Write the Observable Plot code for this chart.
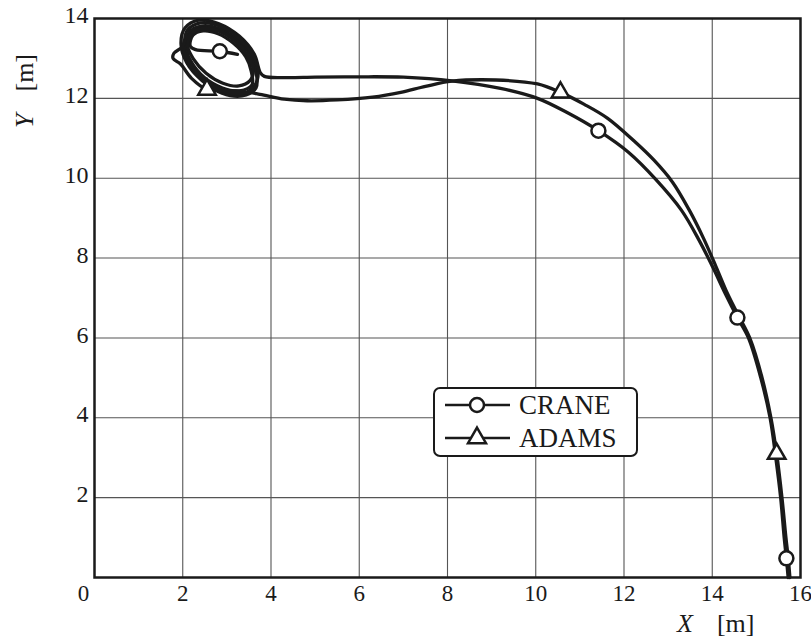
<!DOCTYPE html>
<html>
<head>
<meta charset="utf-8">
<script src="https://cdn.jsdelivr.net/npm/d3@7"></script>
<script src="https://cdn.jsdelivr.net/npm/@observablehq/plot@0.6"></script>
<style>
  html, body { margin: 0; padding: 0; background: #fff; }
  #chart { width: 811px; height: 639px; }
</style>
</head>
<body>
<div id="chart"></div>
<script>
// Trajectories in the X–Y plane [m]
const crane = [
  [15.72, 0], [15.68, 0.48], [15.63, 1.0], [15.55, 2.0], [15.44, 3.0], [15.31, 4.0],
  [15.1, 5.0], [14.82, 6.0], [14.57, 6.51], [14.3, 7.1], [14.0, 7.8], [13.7, 8.45],
  [13.3, 9.2], [12.72, 9.97], [12.1, 10.65], [11.42, 11.19], [10.7, 11.65], [10.04, 12.0],
  [9.2, 12.25], [8.1, 12.44], [7.0, 12.53], [6.0, 12.54], [5.0, 12.53], [4.3, 12.52],
  [3.85, 12.55],
  [3.76, 12.64], [3.62, 13.11], [3.28, 13.56], [2.82, 13.87], [2.36, 13.96], [2.05, 13.76],
  [1.96, 13.36], [2.09, 12.89], [2.44, 12.44], [2.89, 12.13], [3.34, 12.06], [3.66, 12.26],
  [3.66, 12.67], [3.53, 13.09], [3.22, 13.48], [2.82, 13.75], [2.42, 13.81], [2.15, 13.66],
  [2.06, 13.33], [2.19, 12.92], [2.49, 12.52], [2.9, 12.26], [3.29, 12.19], [3.57, 12.34],
  [3.55, 12.69], [3.43, 13.04], [3.15, 13.38], [2.8, 13.62], [2.46, 13.69], [2.23, 13.58],
  [2.17, 13.31], [2.29, 13.22], [2.84, 13.18], [3.24, 13.1]
];

const adams = [
  [15.76, 0], [15.72, 0.5], [15.67, 1.0], [15.58, 2.0], [15.46, 3.1], [15.33, 4.0],
  [15.13, 5.0], [14.85, 6.0], [14.6, 6.55], [14.35, 7.1], [14.08, 7.8], [13.8, 8.5],
  [13.48, 9.2], [13.1, 9.9], [12.68, 10.45], [12.23, 10.93], [11.63, 11.5], [11.1, 11.85],
  [10.56, 12.15], [10.04, 12.36], [9.1, 12.46], [8.1, 12.43], [7.5, 12.3], [6.94, 12.15],
  [6.3, 12.03], [5.5, 11.96], [4.82, 11.94], [4.3, 11.98], [3.75, 12.1], [3.3, 12.18],
  [2.9, 12.2], [2.55, 12.22],
  [2.2, 12.5], [1.95, 12.86], [1.78, 13.0], [1.8, 13.13], [2.0, 13.3],
  [2.1, 13.7], [2.4, 13.89], [2.82, 13.82], [3.25, 13.53], [3.58, 13.1], [3.71, 12.66],
  [3.62, 12.3], [3.32, 12.11], [2.9, 12.19], [2.46, 12.48], [2.14, 12.9], [2.01, 13.35],
  [2.19, 13.62], [2.44, 13.75], [2.81, 13.69], [3.19, 13.43], [3.48, 13.06], [3.6, 12.68],
  [3.53, 12.45], [3.27, 12.31], [2.91, 12.38], [2.53, 12.63], [2.24, 12.99], [2.11, 13.32],
  [2.19, 13.6]
];

// Marker positions along each trajectory
const craneMarkers = [[15.68, 0.48], [14.57, 6.51], [11.42, 11.19], [2.84, 13.18]];
const adamsMarkers = [[15.46, 3.1], [10.56, 12.15], [2.55, 12.22]];

// Axis ticks and grid
const xTicks = [2, 4, 6, 8, 10, 12, 14, 16];
const yTicks = [2, 4, 6, 8, 10, 12, 14];
const gridX = [2, 4, 6, 8, 10, 12, 14];
const gridY = [2, 4, 6, 8, 10, 12];

const seriesNames = ["CRANE", "ADAMS"];

const ink = "#1a1a1a";
const serif = "Liberation Serif";

const chart = Plot.plot({
  width: 811,
  height: 639,
  marginLeft: 94,
  marginRight: 11,
  marginTop: 18,
  marginBottom: 62,
  style: { fontFamily: serif, color: ink, background: "#fff" },
  x: { domain: [0, 16] },
  y: { domain: [0, 14] },
  marks: [
    Plot.ruleX(gridX, { stroke: "#555", strokeWidth: 1.1 }),
    Plot.ruleY(gridY, { stroke: "#555", strokeWidth: 1.1 }),
    Plot.line(crane, { x: d => d[0], y: d => d[1], stroke: ink, strokeWidth: 3.3, curve: "catmull-rom" }),
    Plot.line(adams, { x: d => d[0], y: d => d[1], stroke: ink, strokeWidth: 3.3, curve: "catmull-rom" }),
    Plot.dot(craneMarkers, { x: d => d[0], y: d => d[1], r: 7, fill: "white", stroke: ink, strokeWidth: 2.5 }),
    Plot.dot(adamsMarkers, { x: d => d[0], y: d => d[1], symbol: "triangle", r: 6.5, fill: "white", stroke: ink, strokeWidth: 2.5 }),
    Plot.frame({ stroke: ink, strokeWidth: 2.5 }),
    Plot.axisX(xTicks, { tickSize: 0, tickPadding: 7, fontSize: 23, fontFamily: serif, label: null }),
    Plot.axisX([0], { tickSize: 0, tickPadding: 7, fontSize: 23, fontFamily: serif, dx: -11, label: null }),
    Plot.axisY(yTicks, { tickSize: 0, tickPadding: 6, fontSize: 24, fontFamily: serif, dy: -3, label: null })
  ]
});

document.getElementById("chart").appendChild(chart);

// Axis titles and legend box
const svg = d3.select(chart);

svg.append("text")
  .attr("transform", "translate(33,91) rotate(-90)")
  .attr("text-anchor", "middle")
  .attr("font-size", 26)
  .attr("fill", ink)
  .call(t => {
    t.append("tspan").attr("font-style", "italic").text("Y");
    t.append("tspan").attr("dx", 22).text("[m]");
  });

svg.append("text")
  .attr("x", 677)
  .attr("y", 632)
  .attr("text-anchor", "start")
  .attr("font-size", 26)
  .attr("fill", ink)
  .call(t => {
    t.append("tspan").attr("font-style", "italic").text("X");
    t.append("tspan").attr("dx", 24).text("[m]");
  });

const legend = svg.append("g");
legend.append("rect")
  .attr("x", 434).attr("y", 388).attr("width", 203).attr("height", 68)
  .attr("rx", 6)
  .attr("fill", "white").attr("stroke", ink).attr("stroke-width", 2);

const rows = legend.selectAll("g.row")
  .data(seriesNames)
  .join("g")
  .attr("transform", (d, i) => `translate(0,${405 + i * 33})`);

rows.append("line")
  .attr("x1", 445).attr("x2", 510).attr("y1", 0).attr("y2", 0)
  .attr("stroke", ink).attr("stroke-width", 2.5);

rows.append("path")
  .attr("transform", "translate(477,0)")
  .attr("d", (d, i) => d3.symbol().type(i === 0 ? d3.symbolCircle : d3.symbolTriangle).size(i === 0 ? 154 : 140)())
  .attr("fill", "white").attr("stroke", ink).attr("stroke-width", 2.5);

rows.append("text")
  .attr("x", 519).attr("y", 9)
  .attr("text-anchor", "start")
  .attr("font-size", 27)
  .attr("fill", ink)
  .text(d => d);

// Every label in the serif face, including the tick labels
svg.selectAll("g, text")
  .attr("font-family", serif)
  .style("font-family", serif);
</script>
</body>
</html>
